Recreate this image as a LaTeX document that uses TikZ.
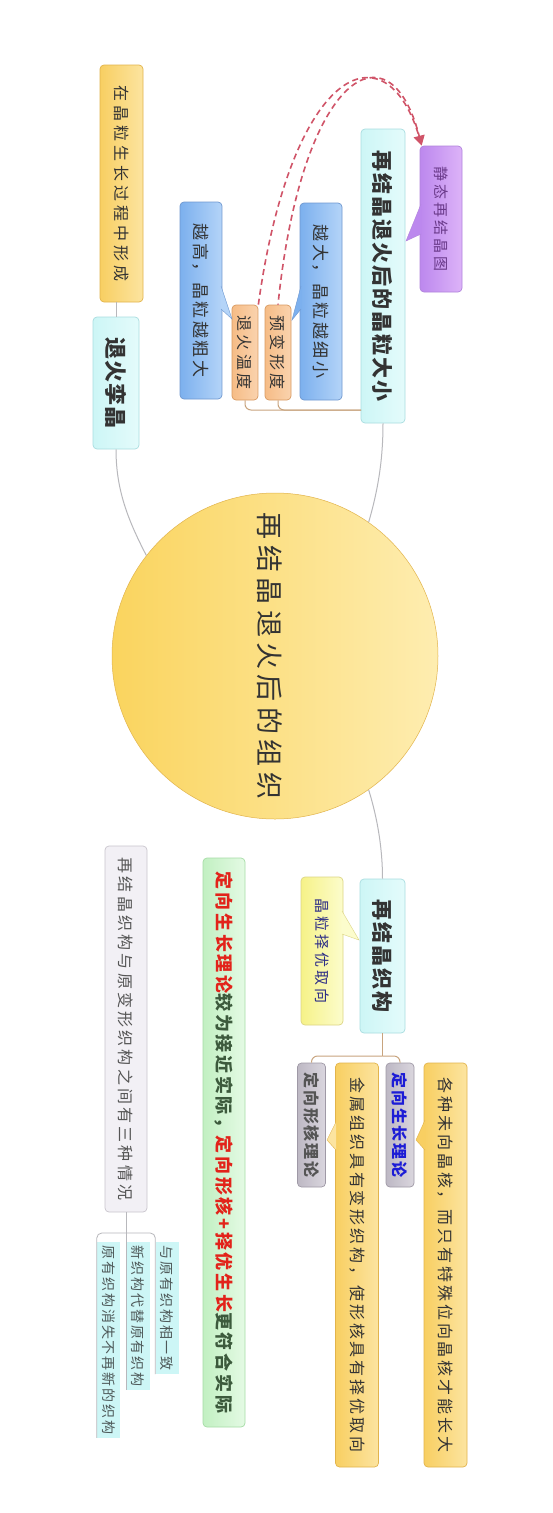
\documentclass[tikz,border=0pt]{standalone}
\usepackage{fontspec}
\setmainfont{Noto Sans CJK SC}
\usetikzlibrary{arrows.meta}
\definecolor{cyanA}{HTML}{CDF6F6}
\definecolor{cyanB}{HTML}{E4FBFB}
\definecolor{cyanD}{HTML}{A9DDE0}
\definecolor{goldA}{HTML}{F8CF62}
\definecolor{goldB}{HTML}{FCE4A0}
\definecolor{goldD}{HTML}{E2B44C}
\definecolor{peachA}{HTML}{F6BC86}
\definecolor{peachB}{HTML}{FAD3AE}
\definecolor{peachD}{HTML}{D89A62}
\definecolor{skyA}{HTML}{7CB0EE}
\definecolor{skyB}{HTML}{B4D4F8}
\definecolor{skyD}{HTML}{6F98D0}
\definecolor{lilacA}{HTML}{BC88EE}
\definecolor{lilacB}{HTML}{DDB3F8}
\definecolor{lilacD}{HTML}{B184DC}
\definecolor{lemonA}{HTML}{F6F288}
\definecolor{lemonB}{HTML}{FCFCCC}
\definecolor{lemonD}{HTML}{DCD584}
\definecolor{greyA}{HTML}{BDB8C4}
\definecolor{greyB}{HTML}{DAD6DE}
\definecolor{greyD}{HTML}{9F99A6}
\definecolor{mintA}{HTML}{C2F0C2}
\definecolor{mintB}{HTML}{E4FAE4}
\definecolor{mintD}{HTML}{A6DCA6}
\definecolor{mistA}{HTML}{F2F0F5}
\definecolor{mistD}{HTML}{C9C5CD}
\definecolor{sunA}{HTML}{FAD45E}
\definecolor{sunB}{HTML}{FEEDB0}
\definecolor{linkgrey}{HTML}{B8B8BC}
\definecolor{linktan}{HTML}{C8A47E}
\definecolor{arrowred}{HTML}{D05468}
\definecolor{inkdark}{HTML}{333333}
\definecolor{inkgrey}{HTML}{555555}
\definecolor{inkred}{HTML}{E2231A}
\definecolor{inkblue}{HTML}{1C1CD6}
\definecolor{inknavy}{HTML}{2E2E86}
\definecolor{inkgreen}{HTML}{3C5A3C}
\definecolor{inkplum}{HTML}{6A3A8A}
\definecolor{inkteal}{HTML}{4F5A5A}
\newcommand\fsz[2]{\fontsize{#1}{#1}\selectfont\addfontfeature{LetterSpace=#2}}
\begin{document}
\begin{tikzpicture}[x=1pt,y=-1pt,
    box/.style={rotate=-90,draw,rounded corners=4pt,inner sep=0pt,line width=0.7pt,text=inkdark},
    dims/.style 2 args={minimum width=#1,minimum height=#2},
    cyanbox/.style={box,draw=cyanD,left color=cyanA,right color=cyanB},
    goldbox/.style={box,draw=goldD,left color=goldA,right color=goldB},
    peachbox/.style={box,draw=peachD,left color=peachA,right color=peachB},
    skybox/.style={box,draw=skyD,left color=skyA,right color=skyB},
    lilacbox/.style={box,draw=lilacD,left color=lilacA,right color=lilacB,text=inkplum},
    lemonbox/.style={box,draw=lemonD,left color=lemonA,right color=lemonB,text=inknavy},
    greybox/.style={box,draw=greyD,left color=greyA,right color=greyB},
    mintbox/.style={box,draw=mintD,left color=mintA,right color=mintB,text=inkgreen},
    mistbox/.style={box,draw=mistD,fill=mistA,text=inkgrey},
    subbox/.style={rotate=-90,fill=cyanA,inner xsep=3pt,inner ysep=0pt,minimum height=23pt,anchor=west,text=inkteal},
    link/.style={draw=linkgrey,line width=1pt},
    tanlink/.style={draw=linktan,line width=1pt,rounded corners=6pt},
    jump/.style={arrowred,line width=1.6pt,dash pattern=on 6pt off 4pt}
  ]
  \useasboundingbox[fill=white] (0,0) rectangle (552,1513);

  \node[circle,draw=goldD,line width=0.5pt,left color=sunA,right color=sunB,minimum size=326pt,inner sep=0pt] (main) at (275,656) {};
  \node[rotate=-90,text=inkdark,font=\fsz{27}{20}] (title) at (270,656) {再结晶退火后的组织};

  \node[cyanbox,dims={132pt}{46pt},font=\bfseries\fsz{22}{6}] (twin) at (116,383) {退火孪晶};
  \node[goldbox,dims={237pt}{43pt},font=\fsz{16}{25}] (twinnote) at (121.5,183.5) {在晶粒生长过程中形成};

  \node[cyanbox,dims={294pt}{44pt},font=\bfseries\fsz{21}{10}] (size) at (383,276) {再结晶退火后的晶粒大小};
  \node[lilacbox,dims={146pt}{42pt},font=\fsz{15}{20}] (staticfig) at (441,219) {静态再结晶图};
  \node[peachbox,dims={95pt}{26pt},font=\fsz{16}{20}] (deform) at (278,352.5) {预变形度};
  \node[peachbox,dims={95pt}{26pt},font=\fsz{16}{20}] (anneal) at (245,352.5) {退火温度};
  \node[skybox,dims={197pt}{42pt},font=\fsz{17}{15}] (finer) at (321,301.5) {越大，晶粒越细小};
  \node[skybox,dims={197pt}{42pt},font=\fsz{17}{15}] (coarser) at (201,300.5) {越高，晶粒越粗大};

  \node[cyanbox,dims={154pt}{45pt},font=\bfseries\fsz{21}{10}] (texture) at (382.5,956) {再结晶织构};
  \node[lemonbox,dims={148pt}{42pt},font=\fsz{15}{20}] (prefer) at (322,951) {晶粒择优取向};
  \node[greybox,dims={124pt}{28pt},text=inkblue,font=\bfseries\fsz{16}{12}] (growth) at (400,1125) {定向生长理论};
  \node[greybox,dims={124pt}{28pt},text=inkgrey,font=\bfseries\fsz{16}{12}] (nucl) at (311.5,1125) {定向形核理论};
  \node[goldbox,dims={404pt}{43pt},font=\fsz{16}{18}] (growthnote) at (445.5,1265) {各种未向晶核，而只有特殊位向晶核才能长大};
  \node[goldbox,dims={404pt}{43pt},font=\fsz{16}{18}] (nuclnote) at (357,1265) {金属组织具有变形织构，使形核具有择优取向};

  \node[mintbox,dims={569pt}{42pt},font=\bfseries\fsz{18}{15}] (verdict) at (224,1142.5)
    {{\color{inkred}定向生长理论}较为接近实际，{\color{inkred}定向形核+择优生长}更符合实际};
  \node[mistbox,dims={366pt}{42pt},font=\fsz{16}{20}] (cases) at (126,1029) {再结晶织构与原变形织构之间有三种情况};
  \node[subbox,font=\fsz{14}{14}] (same) at (167,1242) {与原有织构相一致};
  \node[subbox,font=\fsz{14}{14}] (replace) at (138,1242) {新织构代替原有织构};
  \node[subbox,font=\fsz{14}{14}] (vanish) at (108.5,1242) {原有织构消失不再新的织构};

  \draw[draw=lilacD,fill=lilacA] (421,204) -- (406,241) -- (421,234);
  \draw[draw=skyD,fill=skyA] (301,286) -- (292,320) -- (301,309);
  \draw[draw=skyD,fill=skyB] (221,286) -- (232,319) -- (221,309);
  \draw[draw=lemonD,fill=lemonB] (342,911) -- (359,940) -- (342,934);
  \draw[draw=goldD,fill=goldA] (425,1120) -- (416,1140) -- (425,1150);
  \draw[draw=goldD,fill=goldB] (336,1122) -- (327,1140) -- (336,1150);

  \draw[link] (main.142) .. controls (128,520) and (116,490) .. (twin.east);
  \draw[link] (twin.west) -- (twin.west |- twinnote.east);
  \draw[link] (main.55) .. controls (378,490) and (383,460) .. (size.east);
  \draw[link] (main.-55) .. controls (378,820) and (382.5,850) .. (texture.west);

  \coordinate (szj) at (361,410);
  \draw[tanlink] (szj) -- (anneal.east |- szj) -- (anneal.east);
  \draw[tanlink] (szj) -- (deform.east |- szj) -- (deform.east);

  \coordinate (txj) at (382.5,1056);
  \draw[tanlink] (texture.east) -- (txj);
  \draw[tanlink] (txj) -- (growth.west |- txj) -- (growth.west);
  \draw[tanlink] (txj) -- (nucl.west |- txj) -- (nucl.west);

  \coordinate (csj) at (126,1233);
  \draw[link,line width=0.8pt] (cases.east) -- (replace.south west |- cases.east) -- (replace.south east);
  \draw[link,line width=0.8pt,rounded corners=5pt] (csj) -- (same.south west |- csj) -- (same.south east);
  \draw[link,line width=0.8pt,rounded corners=5pt] (csj) -- (vanish.south west |- csj) -- (vanish.south east);

  \draw[jump] (anneal.north west) .. controls (292,62) and (390,22) .. ([xshift=2pt]staticfig.south west);
  \draw[jump,dash phase=5pt,-{Triangle[length=10pt,width=11pt]}] (deform.west) .. controls (302,72) and (390,22) .. ([xshift=2pt]staticfig.south west);
\end{tikzpicture}
\end{document}
